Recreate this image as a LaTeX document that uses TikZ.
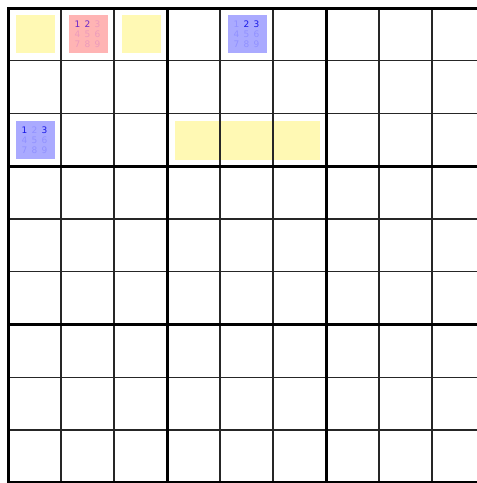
\documentclass[tikz,border=0pt]{standalone}
\usepackage{fontspec}
\setmainfont{DejaVu Sans}
\usepackage{xcolor}
\usepackage{tikz}
\usetikzlibrary{positioning}
\definecolor{hiyellow}{RGB}{255,249,180}
\definecolor{hipink}{RGB}{255,180,180}
\definecolor{hiblue}{RGB}{170,170,255}
\definecolor{pinkon}{RGB}{110,40,200}
\definecolor{pinkoff}{RGB}{236,155,188}
\definecolor{blueon}{RGB}{25,25,230}
\definecolor{blueoff}{RGB}{145,145,255}
\newcommand{\cand}[2]{\makebox[10pt]{\textcolor{#1}{#2}}}

\begin{document}
\begin{tikzpicture}[x=1pt,y=-1pt,
      thin grid/.style={line width=1.3pt,black!85},
      thick grid/.style={line width=3pt,black},
      marks/.style={inner sep=0pt,align=center,font=\fontsize{9}{10}\selectfont}
    ]
      \useasboundingbox (0,0) rectangle (477,483);
      \clip (0,0) rectangle (477,483);
      \fill[white] (0,0) rectangle (477,483);
      % highlighted cells, row 1
      \fill[hiyellow] (16,15) rectangle (55,53);
      \fill[hipink]   (69,15) rectangle (108,53);
      \fill[hiyellow] (122,15) rectangle (161,53);
      \fill[hiblue]   (228,15) rectangle (267,53);
      % highlighted cells, row 3
      \fill[hiblue]   (16,121) rectangle (55,159);
      \fill[hiyellow] (175,121) rectangle (320,160);
      % pencil marks
      \node[marks] (pm12) at (87.5,34.5)
        {\cand{pinkon}{1}\cand{pinkon}{2}\cand{pinkoff}{3}\\
         \cand{pinkoff}{4}\cand{pinkoff}{5}\cand{pinkoff}{6}\\
         \cand{pinkoff}{7}\cand{pinkoff}{8}\cand{pinkoff}{9}};
      \node[marks] (pm15) at (246.5,34.5)
        {\cand{blueoff}{1}\cand{blueon}{2}\cand{blueon}{3}\\
         \cand{blueoff}{4}\cand{blueoff}{5}\cand{blueoff}{6}\\
         \cand{blueoff}{7}\cand{blueoff}{8}\cand{blueoff}{9}};
      \node[marks] (pm31) at (34.5,140)
        {\cand{blueon}{1}\cand{blueoff}{2}\cand{blueon}{3}\\
         \cand{blueoff}{4}\cand{blueoff}{5}\cand{blueoff}{6}\\
         \cand{blueoff}{7}\cand{blueoff}{8}\cand{blueoff}{9}};
      % thin lines
      \draw[thin grid] (61,8) -- (61,483) (114,8) -- (114,483);
      \draw[thin grid] (220,8) -- (220,483) (273,8) -- (273,483);
      \draw[thin grid] (379,8) -- (379,483) (432,8) -- (432,483);
      \draw[thin grid] (8,60.75) -- (485,60.75) (8,113.5) -- (485,113.5);
      \draw[thin grid] (8,219) -- (485,219) (8,271.75) -- (485,271.75);
      \draw[thin grid] (8,377.25) -- (485,377.25) (8,430) -- (485,430);
      % box lines and border
      \draw[thick grid] (167,8) -- (167,483) (326,8) -- (326,483);
      \draw[thick grid] (8,166.25) -- (485,166.25) (8,324.5) -- (485,324.5);
      \draw[thick grid] (8,8) rectangle (485,482.75);
    \end{tikzpicture}
\end{document}
